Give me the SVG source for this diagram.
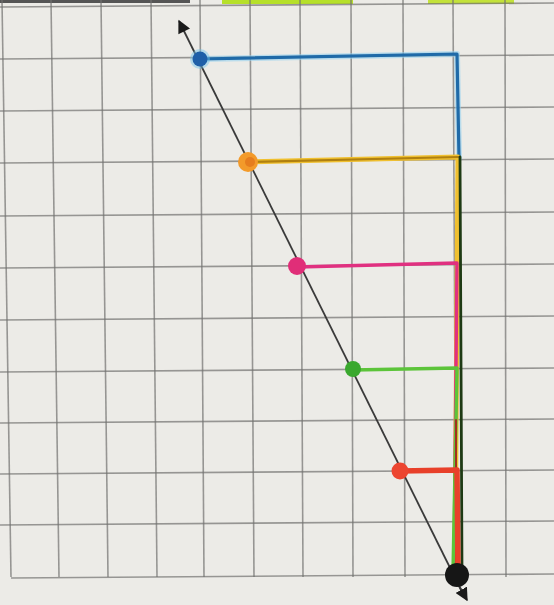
<svg xmlns="http://www.w3.org/2000/svg" width="554" height="605" viewBox="0 0 554 605">
<defs>
<style>
.grid line{stroke:#727270;stroke-width:1.6;opacity:0.7}
.vec{fill:none;stroke-linecap:round;stroke-linejoin:round}
.axis{stroke:#3a3a3a;stroke-width:1.8;fill:none}
</style>
<marker id="ah" viewBox="0 0 10 10" refX="9" refY="5" markerWidth="14" markerHeight="13" markerUnits="userSpaceOnUse" orient="auto">
<path d="M0,0 L10,5 L0,10 z" fill="#1a1a1a"/>
</marker>
<marker id="ah2" viewBox="0 0 10 10" refX="9" refY="5" markerWidth="13" markerHeight="13" markerUnits="userSpaceOnUse" orient="auto">
<path d="M0,0 L10,5 L0,10 z" fill="#1a1a1a"/>
</marker>
</defs>
<rect width="554" height="605" fill="#ecebe7"/>
<rect x="0" y="0" width="190" height="3" fill="#555"/>
<rect x="222" y="0" width="131" height="4" fill="#b6e02a"/>
<rect x="428" y="0" width="86" height="4" fill="#c3e23a"/>
<g class="grid" id="grid">
<line x1="2" y1="0" x2="11" y2="577"/>
<line x1="51" y1="0" x2="59" y2="577"/>
<line x1="101" y1="0" x2="108" y2="577"/>
<line x1="151" y1="0" x2="157" y2="577"/>
<line x1="200" y1="0" x2="204" y2="577"/>
<line x1="250" y1="0" x2="254" y2="577"/>
<line x1="300" y1="0" x2="303" y2="577"/>
<line x1="351" y1="0" x2="353" y2="577"/>
<line x1="403" y1="0" x2="405" y2="577"/>
<line x1="453" y1="0" x2="456" y2="577"/>
<line x1="505" y1="0" x2="506" y2="577"/>
<line x1="0" y1="7" x2="554" y2="3"/>
<line x1="0" y1="59" x2="554" y2="55"/>
<line x1="0" y1="111" x2="554" y2="107"/>
<line x1="0" y1="163" x2="554" y2="159"/>
<line x1="0" y1="216" x2="554" y2="212"/>
<line x1="0" y1="268" x2="554" y2="264"/>
<line x1="0" y1="320" x2="554" y2="316"/>
<line x1="0" y1="372" x2="554" y2="368"/>
<line x1="0" y1="423" x2="554" y2="419"/>
<line x1="0" y1="474" x2="554" y2="470"/>
<line x1="0" y1="525" x2="554" y2="521"/>
<line x1="11" y1="578" x2="554" y2="574"/>
</g>
<g id="connectors">
<line class="axis" x1="465" y1="598" x2="179" y2="21" marker-end="url(#ah)"/>
<line class="axis" x1="458" y1="584" x2="467" y2="600" marker-end="url(#ah2)"/>
<path class="vec" d="M200,59 L457,54 L459,158" stroke="#8fd0f0" stroke-width="6" opacity="0.55"/>
<path class="vec" d="M200,59 L457,54 L459,158" stroke="#1f6aa8" stroke-width="3.2"/>
<path class="vec" d="M248,162 L458,157 L455,572" stroke="#f0c030" stroke-width="5"/>
<path class="vec" d="M248,162 L458,157" stroke="#b08010" stroke-width="2.2"/>
<path class="vec" d="M297,267 L457,263 L454,572" stroke="#e03080" stroke-width="3.4"/>
<path class="vec" d="M353,370 L457,368 L453,572" stroke="#5cc43a" stroke-width="3.4"/>
<path class="vec" d="M460,157 L462,572" stroke="#1e3a14" stroke-width="2.8"/>
<path class="vec" d="M456,420 L456,572" stroke="#a03020" stroke-width="2"/>
<path class="vec" d="M400,471 L457,470 L458,572" stroke="#e8402a" stroke-width="5.5"/>
</g>
<g id="dot-blue"><circle cx="200" cy="59" r="10" fill="#6ec0ea" opacity="0.45"/><circle cx="200" cy="59" r="7.5" fill="#1f5fa8"/></g>
<g id="dot-orange"><circle cx="248" cy="162" r="10" fill="#f39a2a"/><circle cx="250" cy="162" r="5" fill="#e0701a" opacity="0.7"/></g>
<g id="dot-pink"><circle cx="297" cy="266" r="9" fill="#e02e78"/></g>
<g id="dot-green"><circle cx="353" cy="369" r="8" fill="#3aa82e"/></g>
<g id="dot-red"><circle cx="400" cy="471" r="8.5" fill="#ec4530"/></g>
<g id="dot-black"><circle cx="457" cy="575" r="12" fill="#161616"/></g>
</svg>
